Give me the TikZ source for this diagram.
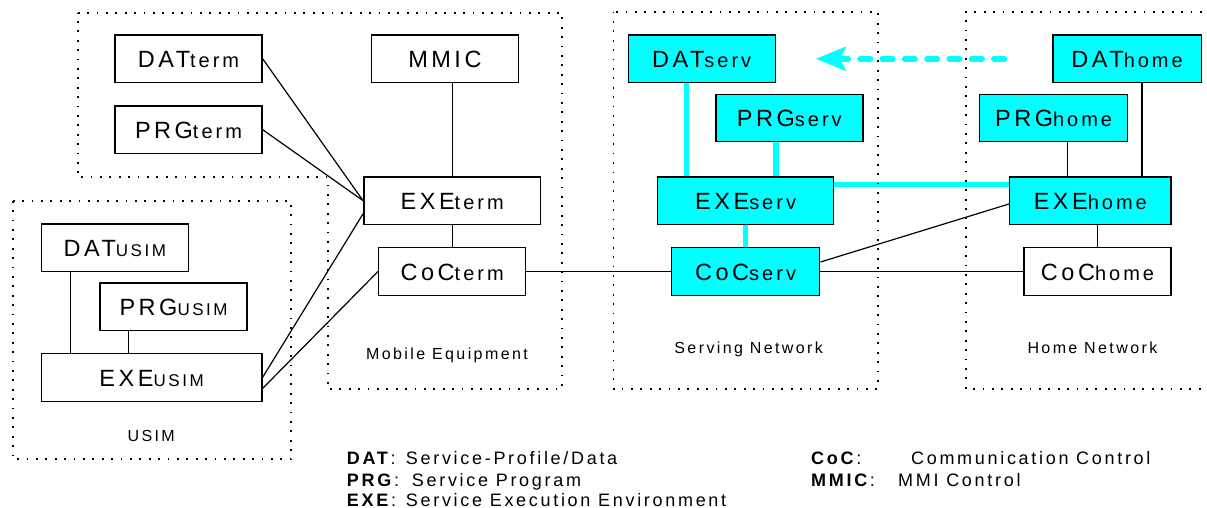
\documentclass[tikz,border=0pt]{standalone}
\usepackage{fontspec}
\setmainfont{Liberation Sans}[LetterSpace=15]
\usetikzlibrary{positioning,arrows.meta,backgrounds}
\definecolor{servcyan}{RGB}{0,255,255}
\newcommand{\boxlabel}[3][20]{#2{\fontsize{#1pt}{#1pt}\selectfont #3}}
\tikzset{
    on grid,
    blk/.style = {
        draw,
        shape=rectangle,
        fill=white,
        minimum width=147pt,
        minimum height=47.5pt,
        inner sep=0pt,
        text height=17pt,
        text depth=0pt,
        line width=1.4pt,
        font=\fontsize{23.5pt}{23.5pt}\selectfont
    },
    cblk/.style = {
        blk,
        fill=servcyan
    },
    group/.style = {
        line width=1.8pt,
        dash pattern=on 1.8pt off 7.6pt
    },
    grouplabel/.style = {
        anchor=base,
        inner sep=0pt,
        font=\fontsize{16pt}{16pt}\selectfont
    },
    legend/.style = {
        anchor=base west,
        inner sep=0pt,
        font=\fontsize{18pt}{18pt}\selectfont
    },
    wire/.style = {line width=1.2pt},
    cwire/.style = {line width=5.5pt, servcyan},
    transfer/.style = {
        line width=5.5pt,
        servcyan,
        line cap=round,
        dash pattern=on 10.5pt off 11.8pt,
        -{Stealth[length=30pt,width=24pt,inset=6pt]}
    },
}

\begin{document}
\begin{tikzpicture}[x=1pt,y=-1pt]
    \useasboundingbox (0,0) rectangle (1207,508);

    % domains
    \draw[group] (77.7,12.7) -- (561.8,12.7) -- (561.8,389) -- (327.7,389)
        -- (327.7,177.3) -- (77.7,177.3) -- cycle;
    \draw[group] (12.6,200.7) rectangle (290.8,459.3);
    \draw[group] (613.5,11.7) rectangle (877.6,389);
    \draw[group] (1230,11.7) -- (965.9,11.7) -- (965.9,389) -- (1230,389);

    \node[grouplabel] (melabel) at (447,359.3) {Mobile Equipment};
    \node[grouplabel] (usimlabel) at (151.2,441) {USIM};
    \node[grouplabel] (servlabel) at (748.7,353.3) {Serving Network};
    \node[grouplabel] (homelabel) at (1092.4,353.3) {Home Network};

    % terminal
    \node[blk] (DATterm) at (188.5,58.8) {\boxlabel{DAT}{term}};
    \node[blk, below=70.9pt of DATterm] (PRGterm) {\boxlabel{PRG}{term}};
    \node[blk, right=256.4pt of DATterm] (MMIC) {MMIC};
    \node[blk, minimum width=176.8pt] (EXEterm) at (452.2,200.7) {\boxlabel{EXE}{term}};
    \node[blk, below=70.8pt of EXEterm] (CoCterm) {\boxlabel{CoC}{term}};

    % usim
    \node[blk] (DATusim) at (114.8,247.9) {\boxlabel[17]{DAT}{USIM}};
    \node[blk, below right=58.8pt and 58.8pt of DATusim] (PRGusim) {\boxlabel[17]{PRG}{USIM}};
    \node[blk, minimum width=220.5pt] (EXEusim) at (151.6,377.5) {\boxlabel[17]{EXE}{USIM}};

    % serving network
    \node[cblk] (DATserv) at (701.7,58.8) {\boxlabel{DAT}{serv}};
    \node[cblk, below right=59.2pt and 87.6pt of DATserv] (PRGserv) {\boxlabel{PRG}{serv}};
    \node[cblk, minimum width=176.1pt] (EXEserv) at (745.6,200.7) {\boxlabel{EXE}{serv}};
    \node[cblk, minimum width=148.3pt, below=70.8pt of EXEserv] (CoCserv) {\boxlabel{CoC}{serv}};

    % home network
    \node[cblk, minimum width=148.2pt] (DAThome) at (1127.1,58.8) {\boxlabel{DAT}{home}};
    \node[cblk, minimum width=148.3pt, below left=59.2pt and 73.5pt of DAThome] (PRGhome) {\boxlabel{PRG}{home}};
    \node[cblk, minimum width=161.4pt] (EXEhome) at (1090.3,200.7) {\boxlabel{EXE}{home}};
    \node[blk] (CoChome) at (1097.5,271.5) {\boxlabel{CoC}{home}};

    \begin{scope}[on background layer]
        \draw[wire] (DATterm.east) -- (EXEterm.west);
        \draw[wire] (PRGterm.east) -- (EXEterm.west);
        \draw[wire] (MMIC.south -| EXEterm.north) -- (EXEterm.north);
        \draw[wire] (EXEterm.south) -- (CoCterm.north);
        \draw[wire] (EXEusim.east) -- ([yshift=-13pt]EXEterm.west);
        \draw[wire] ([yshift=-11pt]EXEusim.east) -- (CoCterm.west);
        \draw[wire] ([xshift=29.9pt]DATusim.south west) -- ([xshift=29.9pt]DATusim.south west |- EXEusim.north);
        \draw[wire] ([xshift=29.1pt]PRGusim.south west) -- ([xshift=29.1pt]PRGusim.south west |- EXEusim.north);

        \draw[wire] (CoCterm.east) -- (CoCserv.west);
        \draw[wire] (CoCserv.east) -- (CoChome.west);
        \draw[wire] ([yshift=9.5pt]CoCserv.east) -- ([yshift=-3.3pt]EXEhome.west);
        \draw[wire] ([xshift=58.8pt]EXEhome.north west) -- ([xshift=58.8pt]EXEhome.north west |- PRGhome.south);
        \draw[wire] ([xshift=-29.8pt]EXEhome.north east) -- ([xshift=-29.8pt]EXEhome.north east |- DAThome.south);
        \draw[wire] (EXEhome.south -| CoChome.north) -- (CoChome.north);

        \draw[cwire] ([xshift=29.4pt]EXEserv.north west) -- ([xshift=29.4pt]EXEserv.north west |- DATserv.south);
        \draw[cwire] ([xshift=-58.4pt]EXEserv.north east) -- ([xshift=-58.4pt]EXEserv.north east |- PRGserv.south);
        \draw[cwire] (EXEserv.south) -- (CoCserv.north);
        \draw[cwire] ([yshift=-8.4pt]EXEserv.north east) -- ([yshift=-8.4pt]EXEserv.north east -| EXEhome.west);
    \end{scope}

    \draw[transfer] ([xshift=-48pt]DAThome.west) -- ([xshift=40pt]DATserv.east);

    % legend
    \node[legend] (kdat) at (346.7,464.5) {\textbf{DAT}:};
    \node[legend] (ddat) at (405.7,464.5) {Service-Profile/Data};
    \node[legend] (kprg) at (346.7,486) {\textbf{PRG}:};
    \node[legend] (dprg) at (411.7,486) {Service Program};
    \node[legend] (kexe) at (346.7,506) {\textbf{EXE}:};
    \node[legend] (dexe) at (405.7,506) {Service Execution Environment};
    \node[legend] (kcoc) at (811,464.5) {\textbf{CoC}:};
    \node[legend] (dcoc) at (910.9,464.5) {Communication Control};
    \node[legend] (kmmic) at (811,486) {\textbf{MMIC}:};
    \node[legend] (dmmic) at (898,486) {MMI Control};
\end{tikzpicture}
\end{document}
